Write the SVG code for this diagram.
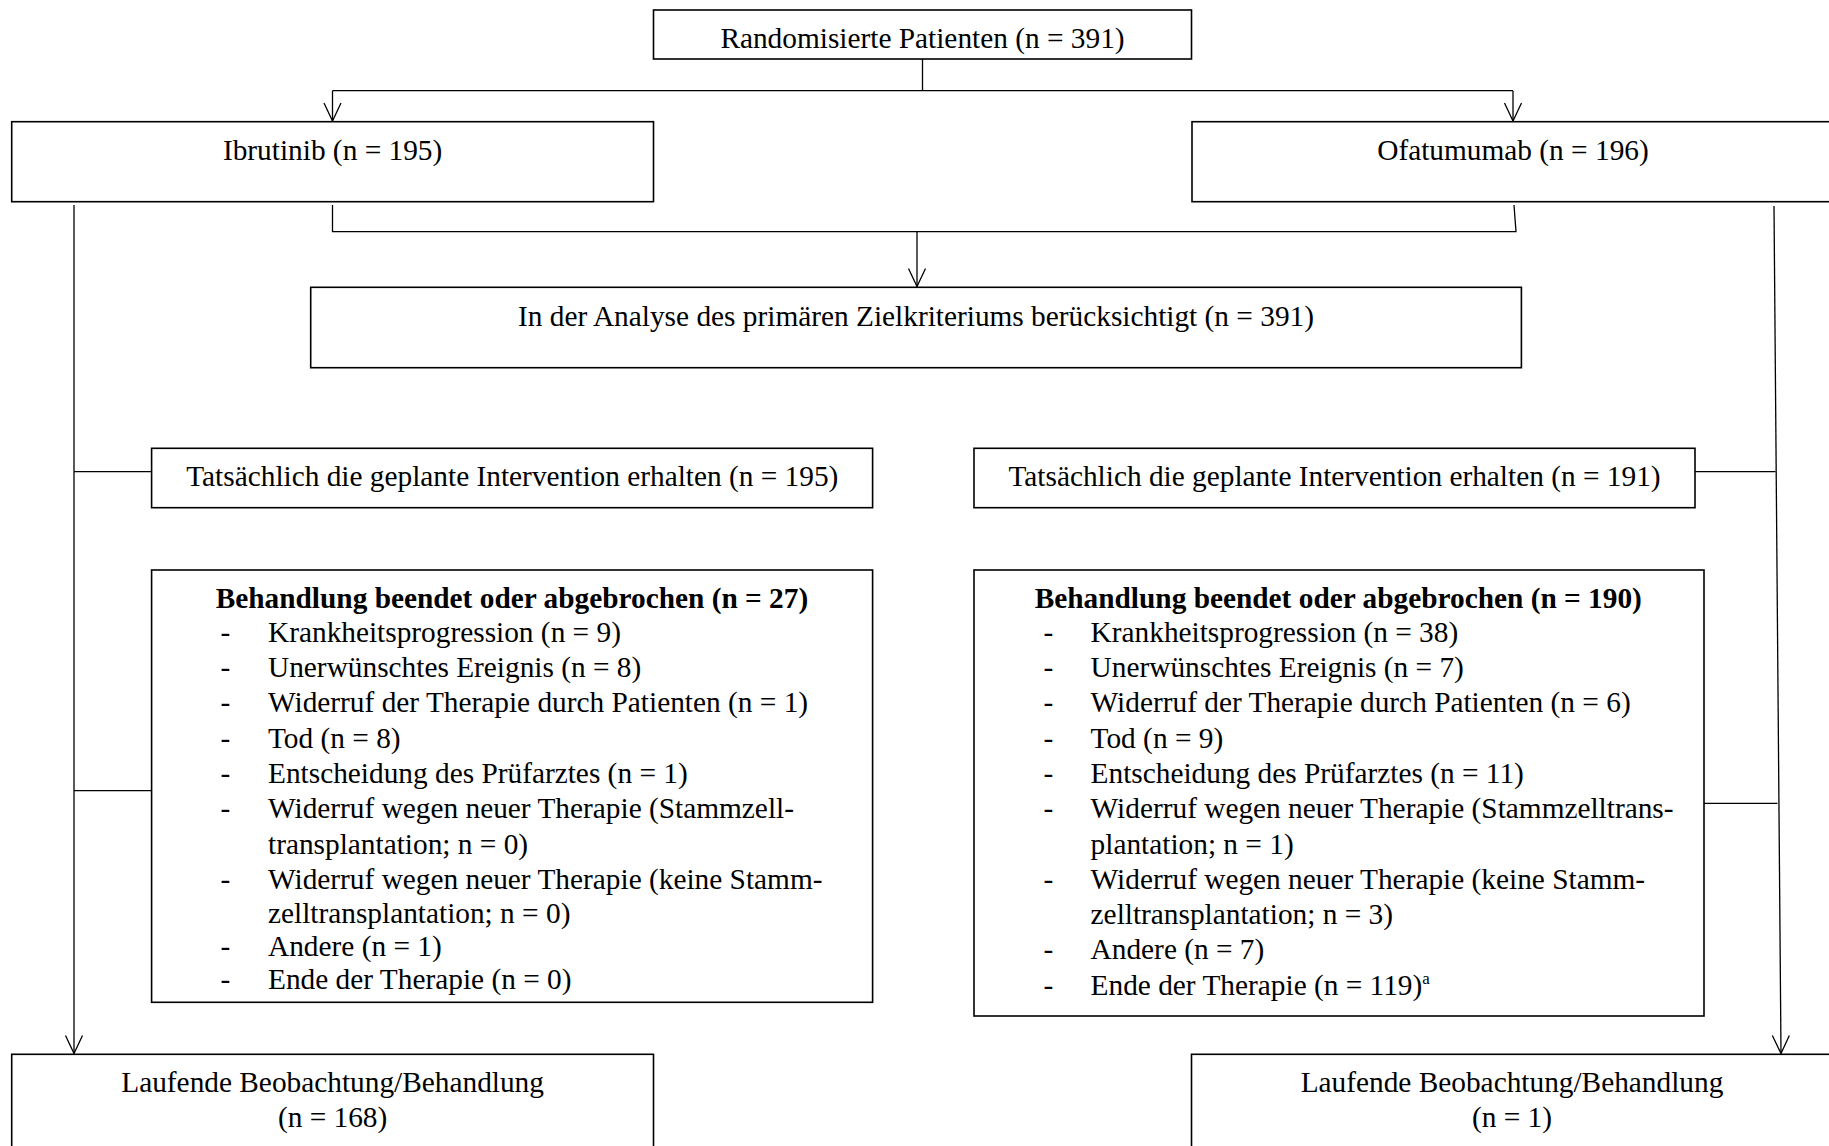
<svg xmlns="http://www.w3.org/2000/svg" width="1829" height="1146" viewBox="0 0 1829 1146">
<defs>
<style>
.box{fill:#fff;stroke:#000;stroke-width:1.6}
.ln{fill:none;stroke:#000;stroke-width:1.3}
text{font-family:"Liberation Serif","Times New Roman",serif;font-size:29.33px;fill:#000}
.c{text-anchor:middle}
.b{font-weight:bold}
</style>
<marker id="ah" markerUnits="userSpaceOnUse" markerWidth="22" markerHeight="22" viewBox="-20 -11 22 22" refX="0" refY="0" orient="auto">
<path d="M-18,-8.5 L0,0 L-18,8.5" fill="none" stroke="#000" stroke-width="1.3"/>
</marker>
</defs>
<rect width="1829" height="1146" fill="#fff"/>

<g id="connectors">
<path class="ln" d="M922.5,59 V90.7 M332.5,90.7 H1513"/>
<path class="ln" d="M332.5,90.7 V121" marker-end="url(#ah)"/>
<path class="ln" d="M1513,90.7 V121" marker-end="url(#ah)"/>
<path class="ln" d="M332.5,205 V231.7 H1516 L1514,205"/>
<path class="ln" d="M917,231.7 V286.5" marker-end="url(#ah)"/>
<path class="ln" d="M74,205 V1053.5" marker-end="url(#ah)"/>
<path class="ln" d="M74,471.7 H151.6 M74,790.7 H151.6"/>
<path class="ln" d="M1774,206 L1781,1053.5" marker-end="url(#ah)"/>
<path class="ln" d="M1695,471.7 H1775.6 M1704,803.3 H1777.5"/>
</g>

<g id="randomisiert">
<rect class="box" x="653.5" y="10" width="538" height="49"/>
<text class="c" x="922.5" y="47.5">Randomisierte Patienten (n = 391)</text>
</g>

<g id="ibrutinib">
<rect class="box" x="11.7" y="121.7" width="641.8" height="80"/>
<text class="c" x="332.6" y="159.5">Ibrutinib (n = 195)</text>
</g>

<g id="ofatumumab">
<rect class="box" x="1192" y="121.7" width="642" height="80"/>
<text class="c" x="1513" y="159.5">Ofatumumab (n = 196)</text>
</g>

<g id="analyse">
<rect class="box" x="310.7" y="287.3" width="1210.7" height="80.4"/>
<text class="c" x="916" y="326">In der Analyse des primären Zielkriteriums berücksichtigt (n = 391)</text>
</g>

<g id="intervention-ibrutinib">
<rect class="box" x="151.6" y="448.3" width="721" height="59.4"/>
<text class="c" x="512.3" y="486">Tatsächlich die geplante Intervention erhalten (n = 195)</text>
</g>

<g id="intervention-ofatumumab">
<rect class="box" x="974" y="448.3" width="721" height="59.4"/>
<text class="c" x="1334.5" y="486">Tatsächlich die geplante Intervention erhalten (n = 191)</text>
</g>

<g id="abbruch-ibrutinib">
<rect class="box" x="151.6" y="570" width="721" height="432.3"/>
<text class="b" x="215.7" y="607.5">Behandlung beendet oder abgebrochen (n = 27)</text>
<text x="220.5" y="641.7">-</text><text x="268" y="641.7">Krankheitsprogression (n = 9)</text>
<text x="220.5" y="677">-</text><text x="268" y="677">Unerwünschtes Ereignis (n = 8)</text>
<text x="220.5" y="712.3">-</text><text x="268" y="712.3">Widerruf der Therapie durch Patienten (n = 1)</text>
<text x="220.5" y="747.6">-</text><text x="268" y="747.6">Tod (n = 8)</text>
<text x="220.5" y="782.9">-</text><text x="268" y="782.9">Entscheidung des Prüfarztes (n = 1)</text>
<text x="220.5" y="818.2">-</text><text x="268" y="818.2">Widerruf wegen neuer Therapie (Stammzell-</text>
<text x="268" y="853.5">transplantation; n = 0)</text>
<text x="220.5" y="888.5">-</text><text x="268" y="888.5">Widerruf wegen neuer Therapie (keine Stamm-</text>
<text x="268" y="923.3">zelltransplantation; n = 0)</text>
<text x="220.5" y="955.5">-</text><text x="268" y="955.5">Andere (n = 1)</text>
<text x="220.5" y="988.5">-</text><text x="268" y="988.5">Ende der Therapie (n = 0)</text>
</g>

<g id="abbruch-ofatumumab">
<rect class="box" x="974" y="570" width="730" height="446"/>
<text class="b" x="1034.7" y="607.5">Behandlung beendet oder abgebrochen (n = 190)</text>
<text x="1043.4" y="641.7">-</text><text x="1090.6" y="641.7">Krankheitsprogression (n = 38)</text>
<text x="1043.4" y="677">-</text><text x="1090.6" y="677">Unerwünschtes Ereignis (n = 7)</text>
<text x="1043.4" y="712.3">-</text><text x="1090.6" y="712.3">Widerruf der Therapie durch Patienten (n = 6)</text>
<text x="1043.4" y="747.6">-</text><text x="1090.6" y="747.6">Tod (n = 9)</text>
<text x="1043.4" y="782.9">-</text><text x="1090.6" y="782.9">Entscheidung des Prüfarztes (n = 11)</text>
<text x="1043.4" y="818.2">-</text><text x="1090.6" y="818.2">Widerruf wegen neuer Therapie (Stammzelltrans-</text>
<text x="1090.6" y="853.5">plantation; n = 1)</text>
<text x="1043.4" y="888.8">-</text><text x="1090.6" y="888.8">Widerruf wegen neuer Therapie (keine Stamm-</text>
<text x="1090.6" y="924.1">zelltransplantation; n = 3)</text>
<text x="1043.4" y="959.4">-</text><text x="1090.6" y="959.4">Andere (n = 7)</text>
<text x="1043.4" y="994.7">-</text><text x="1090.6" y="994.7">Ende der Therapie (n = 119)<tspan font-size="17" dy="-11">a</tspan></text>
</g>

<g id="laufend-ibrutinib">
<rect class="box" x="11.7" y="1054.3" width="641.8" height="110"/>
<text class="c" x="332.6" y="1091.7">Laufende Beobachtung/Behandlung</text>
<text class="c" x="332.6" y="1126.5">(n = 168)</text>
</g>

<g id="laufend-ofatumumab">
<rect class="box" x="1191.5" y="1054.3" width="642" height="110"/>
<text class="c" x="1512" y="1091.7">Laufende Beobachtung/Behandlung</text>
<text class="c" x="1512" y="1126.5">(n = 1)</text>
</g>
</svg>
